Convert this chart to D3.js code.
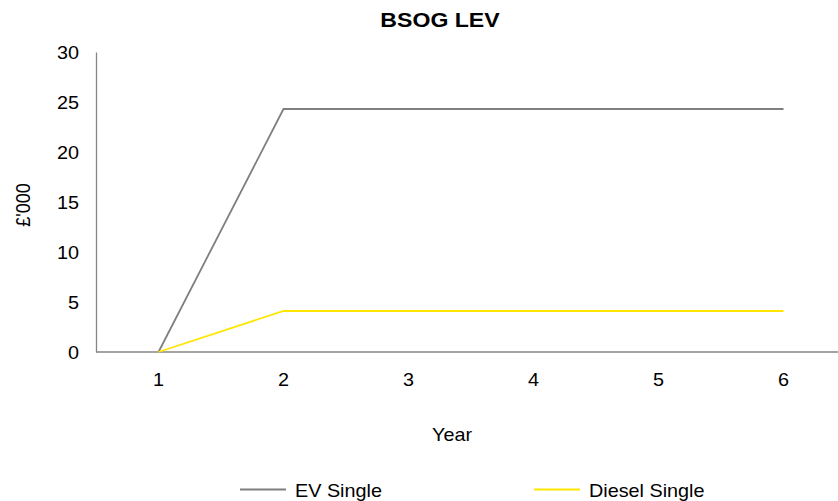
<!DOCTYPE html>
<html>
<head>
<meta charset="utf-8">
<script src="https://cdn.jsdelivr.net/npm/d3@7"></script>
<style>
  body { margin: 0; background: #fff; }
  text { font-family: "Liberation Sans", Arial, sans-serif; fill: #000; }
</style>
</head>
<body>
<div id="chart"></div>
<script>
const years = ['1', '2', '3', '4', '5', '6'];
const evSingle = [0, 24.3, 24.3, 24.3, 24.3, 24.3];
const dieselSingle = [0, 4.1, 4.1, 4.1, 4.1, 4.1];
const yTicks = [0, 5, 10, 15, 20, 25, 30];

const width = 838;
const height = 501;
const margin = { top: 52, left: 96, bottom: 149 };
// text in the reference is drawn a little wide
const stretch = 1.1;

const svg = d3.select('#chart')
  .append('svg')
  .attr('width', width)
  .attr('height', height);

const x = d3.scaleBand()
  .domain(years)
  .range([margin.left, margin.left + 125 * years.length]);

const y = d3.scaleLinear()
  .domain([0, 30])
  .range([height - margin.bottom, margin.top]);

const cx = (d) => x(d) + x.bandwidth() / 2;

// axes
const yAxis = svg.append('g')
  .attr('transform', `translate(${margin.left},0)`)
  .call(d3.axisLeft(y).tickValues(yTicks).tickSize(0).tickPadding(15.5));
yAxis.select('.domain').attr('stroke', '#868686').attr('stroke-width', 1.3);
yAxis.selectAll('text')
  .attr('font-size', 18)
  .attr('dy', '0.35em')
  .attr('transform', `scale(${stretch},1)`);

const xAxis = svg.append('g')
  .attr('transform', `translate(0,${y(0)})`)
  .call(d3.axisBottom(x).tickSize(0).tickPadding(21));
xAxis.select('.domain')
  .attr('d', `M${margin.left},0H${width}`)
  .attr('stroke', '#868686')
  .attr('stroke-width', 1.3);
xAxis.selectAll('text')
  .attr('font-size', 18)
  .attr('transform', `scale(${stretch},1)`);

// series
const line = d3.line()
  .x((d, i) => cx(years[i]))
  .y((d) => y(d));

svg.append('path')
  .datum(evSingle)
  .attr('fill', 'none')
  .attr('stroke', '#7f7f7f')
  .attr('stroke-width', 1.8)
  .attr('d', line);

svg.append('path')
  .datum(dieselSingle)
  .attr('fill', 'none')
  .attr('stroke', '#ffe600')
  .attr('stroke-width', 1.8)
  .attr('d', line);

// titles
svg.append('text')
  .attr('transform', `translate(440,27) scale(${stretch},1)`)
  .attr('text-anchor', 'middle')
  .attr('font-size', 21)
  .attr('font-weight', 'bold')
  .text('BSOG LEV');

svg.append('text')
  .attr('transform', `translate(452,441) scale(${stretch},1)`)
  .attr('text-anchor', 'middle')
  .attr('font-size', 18)
  .text('Year');

svg.append('text')
  .attr('transform', `translate(30,205) scale(${stretch},1) rotate(-90)`)
  .attr('text-anchor', 'middle')
  .attr('font-size', 18)
  .text('£\'000');

// legend
const legend = [
  { name: 'EV Single', color: '#7f7f7f', x: 240 },
  { name: 'Diesel Single', color: '#ffe600', x: 534 },
];

const item = svg.selectAll('.legend')
  .data(legend)
  .enter()
  .append('g')
  .attr('class', 'legend')
  .attr('transform', (d) => `translate(${d.x},489.5)`);

item.append('line')
  .attr('x1', 0)
  .attr('x2', 46)
  .attr('stroke', (d) => d.color)
  .attr('stroke-width', 1.8);

item.append('text')
  .attr('transform', `translate(55,7.5) scale(${stretch},1)`)
  .attr('font-size', 18)
  .text((d) => d.name);
</script>
</body>
</html>
